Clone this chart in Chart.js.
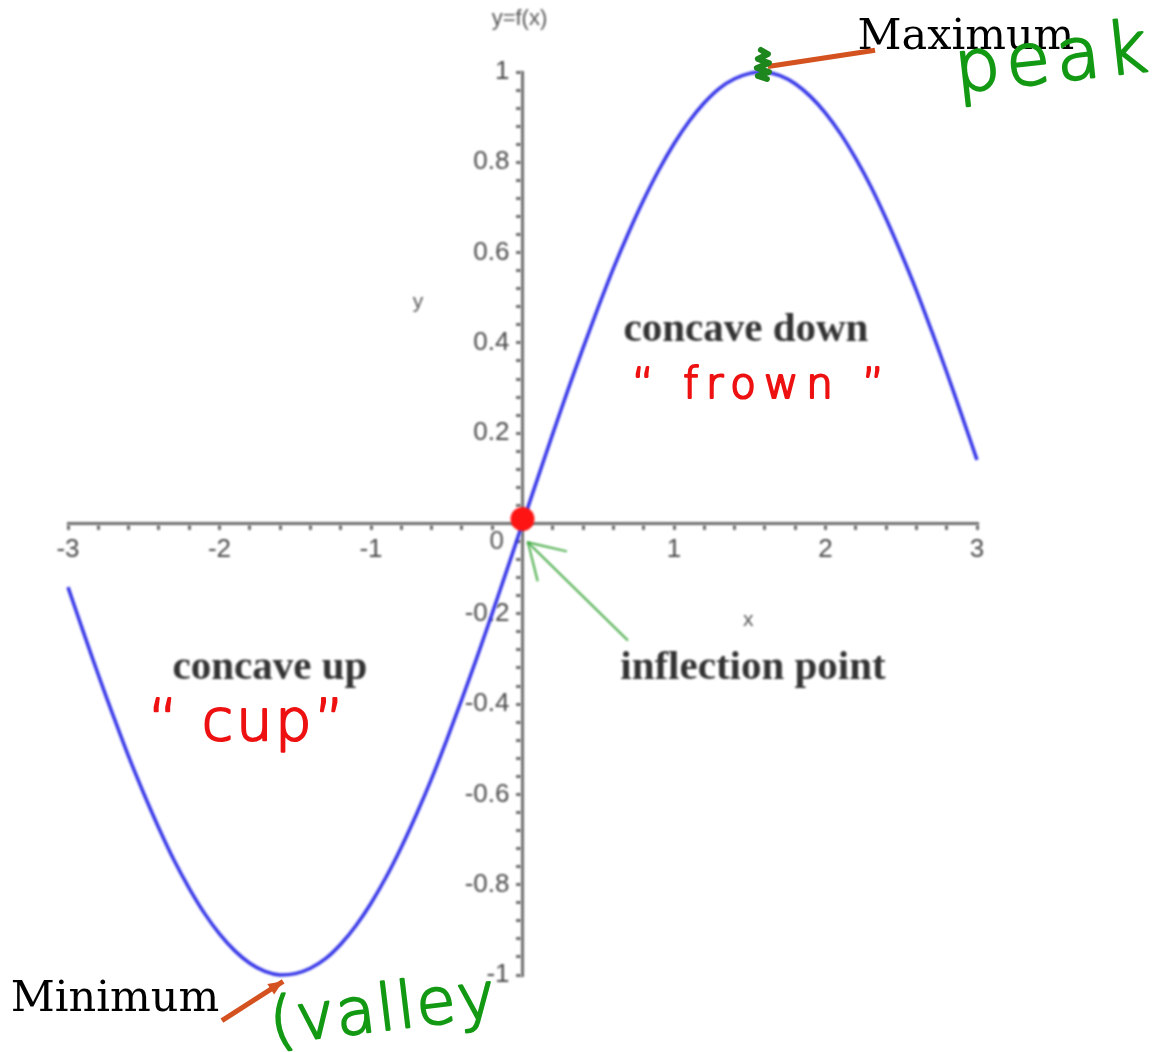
<!DOCTYPE html>
<html>
<head>
<meta charset="utf-8">
<title>Concavity of y = f(x)</title>
<script src="https://cdn.jsdelivr.net/npm/chart.js@4.4.1/dist/chart.umd.min.js"></script>
<style>
  html, body { margin: 0; padding: 0; background: #fff; }
  #wrap { width: 1158px; height: 1052px; }
</style>
</head>
<body>
<div id="wrap"><canvas id="curveChart" width="1158" height="1052"></canvas></div>
<script>
// sampled curve, x from -3 to 3
const xs = [-3, -2.9, -2.8, -2.7, -2.6, -2.5, -2.4, -2.3, -2.2, -2.1, -2, -1.9, -1.8, -1.7, -1.6,
            -1.5, -1.4, -1.3, -1.2, -1.1, -1, -0.9, -0.8, -0.7, -0.6, -0.5, -0.4, -0.3, -0.2, -0.1,
            0, 0.1, 0.2, 0.3, 0.4, 0.5, 0.6, 0.7, 0.8, 0.9, 1, 1.1, 1.2, 1.3, 1.4,
            1.5, 1.6, 1.7, 1.8, 1.9, 2, 2.1, 2.2, 2.3, 2.4, 2.5, 2.6, 2.7, 2.8, 2.9, 3];
const ys = [-0.141, -0.239, -0.335, -0.427, -0.516, -0.598, -0.675, -0.746, -0.808, -0.863, -0.909, -0.946, -0.974, -0.992, -1.0,
            -0.997, -0.985, -0.964, -0.932, -0.891, -0.841, -0.783, -0.717, -0.644, -0.565, -0.479, -0.389, -0.296, -0.199, -0.1,
            0, 0.1, 0.199, 0.296, 0.389, 0.479, 0.565, 0.644, 0.717, 0.783, 0.841, 0.891, 0.932, 0.964, 0.985,
            0.997, 1.0, 0.992, 0.974, 0.946, 0.909, 0.863, 0.808, 0.746, 0.675, 0.598, 0.516, 0.427, 0.335, 0.239, 0.141];
const inflection = [{x: 0, y: 0.01}];
const xTickLabels = ['-3', '-2', '-1', '', '1', '2', '3'];
const yTickLabels = ['-1', '-0.8', '-0.6', '-0.4', '-0.2', '', '0.2', '0.4', '0.6', '0.8', '1'];

const curve = xs.map((x, i) => ({x: x, y: ys[i]}));

// printed figure labels (data coordinates)
const figureNotes = [
  {text: 'concave down', x: 1.475, y: 0.427, font: 'bold 41px "Liberation Serif"', color: '#333'},
  {text: 'concave up', x: -1.667, y: -0.321, font: 'bold 41px "Liberation Serif"', color: '#333'},
  {text: 'inflection point', x: 1.521, y: -0.321, font: 'bold 41px "Liberation Serif"', color: '#333'},
  {text: 'x', x: 1.49, y: -0.215, font: '21px "Liberation Sans"', color: '#555'},
  {text: 'y', x: -0.69, y: 0.49, font: '21px "Liberation Sans"', color: '#555'},
  {text: 'y=f(x)', x: -0.02, y: 1.118, font: '22px "Liberation Sans"', color: '#555'},
  {text: '0', x: -0.17, y: -0.04, font: '26px "Liberation Sans"', color: '#555'}
];
// typed labels on top
const typedNotes = [
  {text: 'Maximum', x: 2.927, y: 1.075, font: '43px "DejaVu Serif"', color: '#000'},
  {text: 'Minimum', x: -2.69, y: -1.056, font: '43px "DejaVu Serif"', color: '#000'}
];
// handwritten words, left-aligned at their baseline
const scribbles = [
  {text: '\u201C frown \u201D', x: 0.723, y: 0.277, size: 42, color: '#ee1111', spacing: '8px', rot: 0},
  {text: '\u201C cup\u201D', x: -2.471, y: -0.48, size: 57, color: '#ee1111', spacing: '3px', rot: 0},
  {text: 'peak', x: 2.868, y: 0.955, size: 72, color: '#139913', spacing: '6px', rot: -0.11},
  {text: '(valley', x: -1.652, y: -1.152, size: 64, color: '#139913', spacing: '2px', rot: -0.12}
];
const figureArrows = [
  {from: [0.696, -0.259], to: [0.036, -0.042], color: '#44aa44', width: 2, head: 40}
];
const typedArrows = [
  {from: [2.327, 1.048], to: [1.62, 1.012], color: '#d4521f', width: 5, head: 0},
  {from: [-1.984, -1.101], to: [-1.58, -1.014], color: '#d4521f', width: 5, head: 16}
];

function drawText(ctx, x, y, list) {
  ctx.textAlign = 'center';
  ctx.textBaseline = 'middle';
  list.forEach(n => {
    ctx.font = n.font;
    ctx.fillStyle = n.color;
    ctx.fillText(n.text, x.getPixelForValue(n.x), y.getPixelForValue(n.y));
  });
}

function drawArrows(ctx, x, y, list) {
  list.forEach(a => {
    const x0 = x.getPixelForValue(a.from[0]), y0 = y.getPixelForValue(a.from[1]);
    const x1 = x.getPixelForValue(a.to[0]), y1 = y.getPixelForValue(a.to[1]);
    const ang = Math.atan2(y1 - y0, x1 - x0);
    ctx.strokeStyle = a.color;
    ctx.fillStyle = a.color;
    ctx.lineWidth = a.width;
    ctx.beginPath();
    ctx.moveTo(x0, y0);
    ctx.lineTo(x1, y1);
    ctx.stroke();
    if (a.head && a.width > 3) {
      ctx.beginPath();
      ctx.moveTo(x1, y1);
      ctx.lineTo(x1 - a.head * Math.cos(ang - 0.4), y1 - a.head * Math.sin(ang - 0.4));
      ctx.lineTo(x1 - a.head * Math.cos(ang + 0.4), y1 - a.head * Math.sin(ang + 0.4));
      ctx.closePath();
      ctx.fill();
    } else if (a.head) {
      ctx.beginPath();
      ctx.moveTo(x1 - a.head * Math.cos(ang - 0.55), y1 - a.head * Math.sin(ang - 0.55));
      ctx.lineTo(x1, y1);
      ctx.lineTo(x1 - a.head * Math.cos(ang + 0.55), y1 - a.head * Math.sin(ang + 0.55));
      ctx.stroke();
    }
  });
}

const notesPlugin = {
  id: 'notes',
  beforeDraw(chart) {
    // the printed figure is a little soft
    chart.ctx.filter = 'blur(0.8px)';
  },
  afterDatasetsDraw(chart) {
    const {ctx, scales: {x, y}} = chart;
    ctx.save();
    drawText(ctx, x, y, figureNotes);
    drawArrows(ctx, x, y, figureArrows);
    ctx.filter = 'none';
    drawText(ctx, x, y, typedNotes);
    drawArrows(ctx, x, y, typedArrows);
    // pen strokes: thin face, thickened with an outline
    ctx.textAlign = 'left';
    ctx.textBaseline = 'alphabetic';
    ctx.lineJoin = 'round';
    scribbles.forEach(s => {
      ctx.save();
      ctx.translate(x.getPixelForValue(s.x), y.getPixelForValue(s.y));
      ctx.rotate(s.rot);
      ctx.font = '200 ' + s.size + 'px "DejaVu Sans"';
      ctx.letterSpacing = s.spacing;
      ctx.fillStyle = s.color;
      ctx.strokeStyle = s.color;
      ctx.lineWidth = 2.2;
      ctx.fillText(s.text, 0, 0);
      ctx.strokeText(s.text, 0, 0);
      ctx.restore();
    });
    // green scribble over the peak
    const peak = curve[ys.indexOf(Math.max(...ys))];
    const px = x.getPixelForValue(peak.x) - 2, py = y.getPixelForValue(peak.y);
    ctx.strokeStyle = '#1d861d';
    ctx.lineWidth = 6;
    ctx.lineCap = 'round';
    ctx.beginPath();
    ctx.moveTo(px - 2, py - 22);
    ctx.lineTo(px + 5, py - 18);
    ctx.lineTo(px - 5, py - 13);
    ctx.lineTo(px + 6, py - 9);
    ctx.lineTo(px - 6, py - 4);
    ctx.lineTo(px + 6, py);
    ctx.lineTo(px - 5, py + 4);
    ctx.lineTo(px + 4, py + 7);
    ctx.stroke();
    ctx.restore();
  }
};

const isStep = (v, s) => Math.abs(v / s - Math.round(v / s)) < 1e-6;

const data = {
  datasets: [{
    label: 'inflection point',
    data: inflection,
    pointRadius: 12,
    pointBackgroundColor: '#ff1414',
    pointBorderWidth: 0,
    showLine: false
  }, {
    label: 'y=f(x)',
    data: curve,
    showLine: true,
    borderColor: '#3434e8',
    borderWidth: 3.5,
    pointRadius: 0,
    tension: 0.3,
    clip: 10
  }]
};

const config = {
  type: 'scatter',
  data: data,
  options: {
    responsive: false,
    animation: false,
    layout: {
      padding: {left: 68, right: 181, top: 72, bottom: 77}
    },
    scales: {
      x: {
        type: 'linear',
        min: -3,
        max: 3,
        position: {y: 0},
        border: {color: '#6e6e6e', width: 3},
        grid: {drawOnChartArea: false, drawTicks: true, tickLength: 5, color: '#6e6e6e', lineWidth: 3},
        ticks: {
          stepSize: 0.2,
          autoSkip: false,
          maxRotation: 0,
          padding: 6,
          color: '#4a4a4a',
          font: {family: 'Liberation Sans', size: 26},
          callback: v => isStep(v, 1) ? xTickLabels[Math.round(v) + 3] : ''
        }
      },
      y: {
        type: 'linear',
        min: -1,
        max: 1,
        position: {x: 0},
        border: {color: '#6e6e6e', width: 3},
        grid: {drawOnChartArea: false, drawTicks: true, tickLength: 5, color: '#6e6e6e', lineWidth: 3},
        ticks: {
          stepSize: 0.04,
          autoSkip: false,
          color: '#4a4a4a',
          font: {family: 'Liberation Sans', size: 26},
          // trailing en space keeps the label clear of the axis line
          callback: v => isStep(v, 0.2) ? yTickLabels[Math.round(v * 5) + 5] + '\u2002' : ''
        }
      }
    },
    plugins: {
      legend: {display: false},
      tooltip: {enabled: false}
    }
  },
  plugins: [notesPlugin]
};

const ctx = document.getElementById('curveChart').getContext('2d');
new Chart(ctx, config);
</script>
</body>
</html>
